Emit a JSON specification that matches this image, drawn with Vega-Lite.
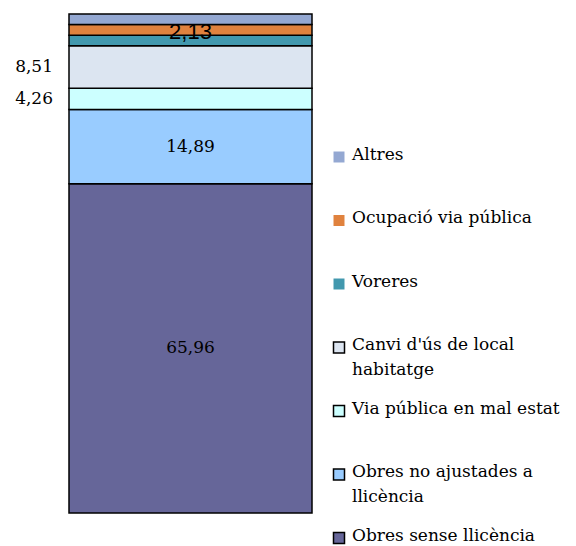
{
  "$schema": "https://vega.github.io/schema/vega-lite/v6.json",
  "padding": {"left": 15, "top": 10, "right": 0, "bottom": 0},
  "config": {
    "view": {"stroke": null},
    "locale": {"number": {"decimal": ",", "thousands": ".", "grouping": [3], "currency": ["", " €"]}}
  },
  "datasets": {
    "queixes": [
      {"categoria": "Obres sense llicència", "etiqueta": "Obres sense llicència", "valor": 65.96, "ordre": 1},
      {"categoria": "Obres no ajustades a llicència", "etiqueta": "Obres no ajustades a\nllicència", "valor": 14.89, "ordre": 2},
      {"categoria": "Via pública en mal estat", "etiqueta": "Via pública en mal estat", "valor": 4.26, "ordre": 3},
      {"categoria": "Canvi d'ús de local habitatge", "etiqueta": "Canvi d'ús de local\nhabitatge", "valor": 8.51, "ordre": 4},
      {"categoria": "Voreres", "etiqueta": "Voreres", "valor": 2.13, "ordre": 5},
      {"categoria": "Ocupació via pública", "etiqueta": "Ocupació via pública", "valor": 2.13, "ordre": 6},
      {"categoria": "Altres", "etiqueta": "Altres", "valor": 2.13, "ordre": 7}
    ]
  },
  "data": {"name": "queixes"},
  "spacing": 27,
  "bounds": "flush",
  "resolve": {"scale": {"color": "shared"}},
  "hconcat": [
    {
      "width": 243,
      "height": 499,
      "layer": [
        {
          "mark": {"type": "bar", "stroke": "black", "strokeWidth": 1.5},
          "encoding": {
            "x": {"datum": "Total", "type": "nominal", "scale": {"paddingInner": 0, "paddingOuter": 0}, "axis": null},
            "y": {"field": "valor", "type": "quantitative", "stack": "zero", "scale": {"domain": [0, 100], "nice": false}, "axis": null},
            "color": {
              "field": "categoria", "type": "nominal",
              "scale": {
                "domain": ["Obres sense llicència", "Obres no ajustades a llicència", "Via pública en mal estat", "Canvi d'ús de local habitatge", "Voreres", "Ocupació via pública", "Altres"],
                "range": ["#666699", "#99CCFF", "#CCFFFF", "#DCE5F1", "#4298AE", "#E0823E", "#94A8D2"]
              },
              "legend": null
            },
            "order": {"field": "ordre", "type": "quantitative"}
          }
        },
        {
          "mark": {"type": "text", "font": "DejaVu Serif", "fontSize": 17, "color": "black"},
          "encoding": {
            "x": {"datum": "Total", "type": "nominal"},
            "y": {"field": "valor", "type": "quantitative", "stack": "zero", "bandPosition": 0.5},
            "detail": {"field": "categoria", "type": "nominal"},
            "order": {"field": "ordre", "type": "quantitative"},
            "text": {"condition": {"test": "datum.valor >= 10", "field": "valor", "type": "quantitative", "format": ".2f"}, "value": ""}
          }
        },
        {
          "mark": {"type": "text", "font": "DejaVu Serif", "fontSize": 17, "color": "black", "align": "right", "dx": -16},
          "encoding": {
            "x": {"datum": "Total", "type": "nominal", "bandPosition": 0},
            "y": {"field": "valor", "type": "quantitative", "stack": "zero", "bandPosition": 0.5},
            "detail": {"field": "categoria", "type": "nominal"},
            "order": {"field": "ordre", "type": "quantitative"},
            "text": {"condition": {"test": "datum.valor > 4 && datum.valor < 10", "field": "valor", "type": "quantitative", "format": ".2f"}, "value": ""}
          }
        },
        {
          "mark": {"type": "text", "font": "Liberation Sans", "fontSize": 22, "color": "black", "dy": 2},
          "encoding": {
            "x": {"datum": "Total", "type": "nominal"},
            "y": {"field": "valor", "type": "quantitative", "stack": "zero", "bandPosition": 0.5},
            "detail": {"field": "categoria", "type": "nominal"},
            "order": {"field": "ordre", "type": "quantitative"},
            "text": {"condition": {"test": "datum.categoria == 'Ocupació via pública'", "field": "valor", "type": "quantitative", "format": ".2f"}, "value": ""}
          }
        }
      ]
    },
    {
      "width": 10,
      "height": 525,
      "layer": [
        {
          "mark": {"type": "square", "size": 121, "filled": true, "opacity": 1, "strokeWidth": 1.5},
          "encoding": {
            "x": {"datum": 0, "type": "quantitative", "scale": {"domain": [0, 1]}, "axis": null},
            "y": {
              "field": "categoria", "type": "nominal",
              "sort": ["Altres", "Ocupació via pública", "Voreres", "Canvi d'ús de local habitatge", "Via pública en mal estat", "Obres no ajustades a llicència", "Obres sense llicència"],
              "scale": {"type": "point", "range": [143, 524], "padding": 0},
              "axis": null
            },
            "color": {"field": "categoria", "type": "nominal", "legend": null},
            "stroke": {"condition": {"test": "datum.ordre <= 4", "value": "black"}, "value": "transparent"}
          }
        },
        {
          "mark": {"type": "text", "align": "left", "baseline": "top", "dx": 13, "dy": -10.5, "font": "DejaVu Serif", "fontSize": 17, "lineBreak": "\n", "lineHeight": 24.5, "color": "black"},
          "encoding": {
            "x": {"datum": 0, "type": "quantitative", "scale": {"domain": [0, 1]}, "axis": null},
            "y": {
              "field": "categoria", "type": "nominal",
              "sort": ["Altres", "Ocupació via pública", "Voreres", "Canvi d'ús de local habitatge", "Via pública en mal estat", "Obres no ajustades a llicència", "Obres sense llicència"],
              "scale": {"type": "point", "range": [143, 524], "padding": 0},
              "axis": null
            },
            "text": {"field": "etiqueta", "type": "nominal"}
          }
        }
      ]
    }
  ]
}
